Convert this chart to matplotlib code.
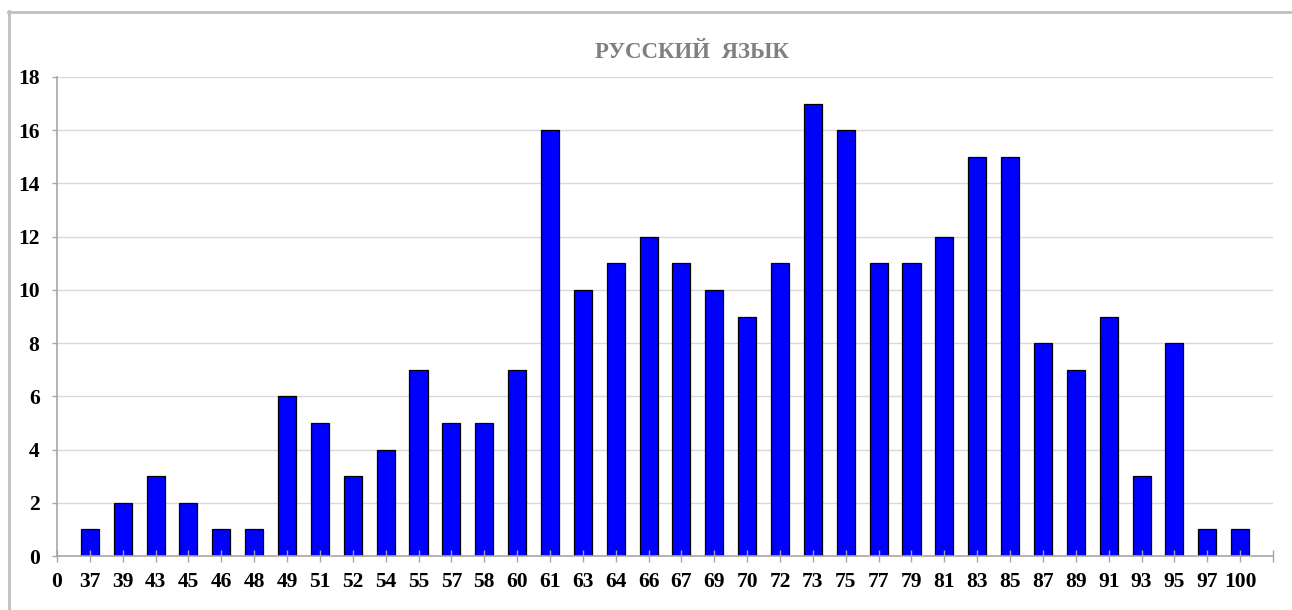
import numpy as np
import matplotlib.pyplot as plt
from matplotlib.lines import Line2D

# scores (category labels) and number of students per score
labels = ['0', '37', '39', '43', '45', '46', '48', '49', '51', '52', '54', '55',
          '57', '58', '60', '61', '63', '64', '66', '67', '69', '70', '72', '73',
          '75', '77', '79', '81', '83', '85', '87', '89', '91', '93', '95', '97', '100']
counts = [0, 1, 2, 3, 2, 1, 1, 6, 5, 3, 4, 7, 5, 5, 7, 16, 10, 11, 12, 11, 10, 9,
          11, 17, 16, 11, 11, 12, 15, 15, 8, 7, 9, 3, 8, 1, 1]

plt.rcParams['font.family'] = ['Liberation Serif', 'DejaVu Serif']

fig = plt.figure(figsize=(12.92, 6.10), dpi=100)
ax = fig.add_axes([57/1292, 54/610, 1216/1292, 479/610])

x = np.arange(len(labels))
ax.set_axisbelow(False)
yt = np.arange(0, 19, 2)
for v in yt[1:]:
    ax.axhline(v, color='#d9d9d9', linewidth=1, zorder=0)
ax.bar(x[1:], counts[1:], width=0.55, color='#0000ff', edgecolor='black',
       linewidth=0.9, zorder=2)

ax.set_xlim(0, len(labels))
ax.set_ylim(0, 18)
ax.set_yticks(yt)
ax.set_xticks(list(x) + [len(labels)])
ax.set_xticklabels(labels + [''])

for s in ['top', 'right']:
    ax.spines[s].set_visible(False)
for s in ['left', 'bottom']:
    ax.spines[s].set_color('#a6a6a6')
    ax.spines[s].set_linewidth(1.2)

ax.tick_params(axis='x', direction='inout', length=8.6, color='#a6a6a6',
               width=1, pad=7.5, labelsize=15.5)
ax.tick_params(axis='y', direction='out', length=3.6, color='#a6a6a6',
               width=1, pad=9, labelsize=15.5)
for t in ax.get_xticklabels() + ax.get_yticklabels():
    t.set_fontweight('bold')

fig.text(692/1292, 1 - 52/610, 'РУССКИЙ  ЯЗЫК', ha='center', va='center',
         fontsize=16.5, fontweight='bold', color='#808080')

# outer frame of the chart area
fig.add_artist(Line2D([8.5/1292, 8.5/1292], [0, 1 - 11/610], color='#c0c0c0',
                      linewidth=2, transform=fig.transFigure))
fig.add_artist(Line2D([8/1292, 1], [1 - 11.5/610, 1 - 11.5/610], color='#c0c0c0',
                      linewidth=2, transform=fig.transFigure))

plt.savefig('out.png', dpi=100)
